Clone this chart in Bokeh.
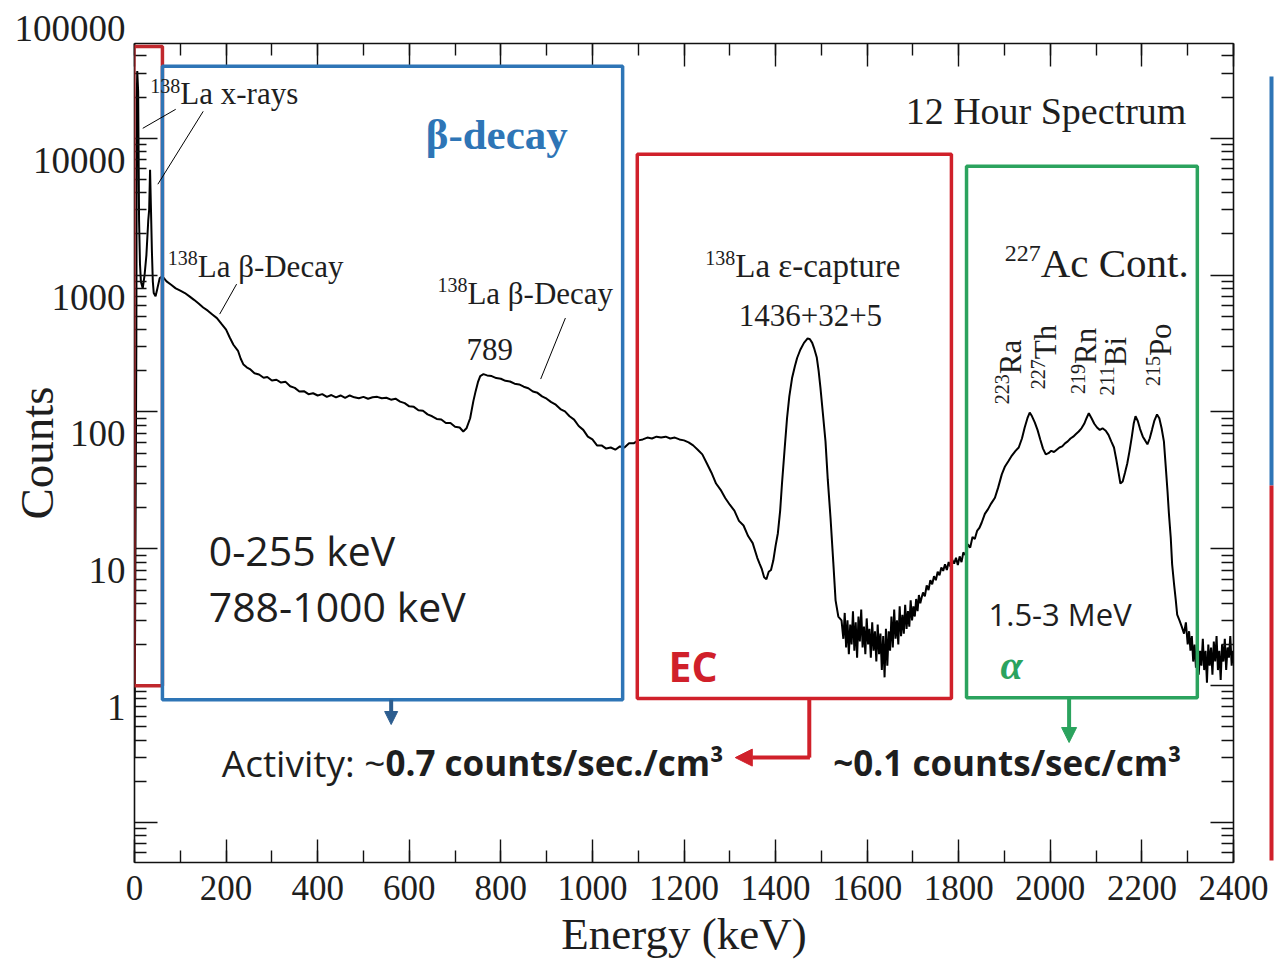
import math
from bokeh.plotting import figure
from bokeh.models import (Range1d, LinearAxis, LogAxis, FixedTicker, SingleIntervalTicker,
                          Label, BoxAnnotation, Arrow, NormalHead)
from bokeh.embed import file_html
from bokeh.resources import INLINE

# ---------------- data ----------------
energy_xray = [0, 2, 4, 5, 6, 8, 10, 12, 14, 18,
               22, 26, 30, 32, 34, 36, 38, 40, 42, 46,
               50, 55]
counts_xray = [0.3, 8, 300, 20000, 31000, 22000, 2500, 1200, 900, 800,
               1000, 1400, 2500, 3000, 5900, 3000, 1500, 900, 740, 700,
               800, 950]

energy_beta = [61, 70, 80, 90, 100, 110, 120, 130, 140, 150,
               160, 170, 180, 190, 200, 208, 216, 226, 232, 238,
               245, 252, 262, 272, 282, 290, 300, 310, 320, 330,
               340, 350, 360, 370, 380, 390, 400, 410, 420, 430,
               440, 450, 460, 470, 480, 490, 500, 510, 520, 530,
               540, 550, 560, 570, 580, 590, 600, 610, 620, 630,
               640, 650, 660, 670, 680, 690, 700, 710, 718, 725,
               733, 740, 745, 750, 755, 762, 770, 780, 790, 800,
               810, 820, 830, 840, 850, 860, 870, 880, 890, 900,
               910, 920, 930, 940, 950, 960, 970, 980, 990, 1000,
               1010, 1020, 1030, 1040, 1050, 1060, 1070, 1080, 1090, 1100]
counts_beta = [980, 900, 850, 800, 770, 740, 700, 660, 620, 580,
               550, 515, 485, 440, 400, 350, 310, 280, 245, 222,
               212, 206, 192, 188, 178, 180, 170, 172, 164, 166,
               154, 150, 141, 142, 135, 137, 132, 135, 129, 133,
               128, 132, 127, 132, 128, 126, 129, 125, 128, 129,
               126, 127, 123, 125, 119, 116, 110, 109, 103, 102,
               96, 93, 89, 88, 83, 83, 78, 77, 72, 76,
               90, 120, 142, 165, 183, 189, 185, 183, 177, 175,
               169, 167, 161, 159, 153, 149, 141, 138, 130, 125,
               118, 113, 105, 101, 93, 88, 79, 74, 66, 63,
               57, 57, 54, 55, 53, 56, 55, 59, 59, 62]

energy_ec = [1110, 1120, 1130, 1140, 1150, 1160, 1170, 1180, 1190, 1200,
             1210, 1220, 1230, 1240, 1250, 1260, 1270, 1280, 1290, 1300,
             1310, 1320, 1330, 1340, 1350, 1360, 1365, 1370, 1375, 1380,
             1385, 1390, 1395, 1400, 1405, 1410, 1414, 1420, 1425, 1430,
             1436, 1442, 1447, 1454, 1462, 1470, 1475, 1480, 1484, 1490,
             1494, 1498, 1503, 1509, 1514, 1520, 1526, 1531, 1537, 1544]
counts_ec = [63, 65, 64, 66, 65, 66, 64, 65, 63, 62,
             60, 57, 53, 49, 42, 36, 30, 27, 23.5, 21,
             19, 16, 14.8, 12.4, 11, 8.6, 7.8, 7.1, 6.2, 6.0,
             6.8, 7.0, 8.2, 10.5, 13, 19, 30, 55, 90, 130,
             177, 215, 248, 285, 320, 345, 340, 320, 293, 250,
             200, 150, 100, 61, 32, 16.8, 8, 4.2, 3.2, 3.0]

energy_valley = [1548, 1551, 1554, 1557, 1560, 1563, 1566, 1569, 1572, 1575,
                 1578, 1581, 1584, 1587, 1590, 1593, 1596, 1599, 1602, 1605,
                 1608, 1611, 1614, 1617, 1620, 1623, 1626, 1629, 1632, 1635,
                 1638, 1641, 1644, 1647, 1650, 1653, 1656, 1659, 1662, 1665,
                 1668, 1671, 1674, 1677, 1680, 1683, 1686, 1689, 1692, 1695,
                 1698, 1701, 1704, 1707, 1710, 1713, 1716, 1719, 1722, 1726,
                 1730, 1734, 1738, 1742, 1746, 1750, 1754, 1758, 1762, 1766,
                 1770, 1774, 1778, 1782, 1786, 1790, 1794, 1798, 1802, 1806,
                 1810, 1815, 1820, 1825, 1830, 1835, 1840, 1845, 1850, 1857]
counts_valley = [2.2, 3.4, 1.9, 3.0, 1.7, 2.8, 2.0, 3.5, 1.8, 2.9,
                 1.6, 3.2, 2.1, 3.6, 1.9, 2.7, 1.7, 3.1, 2.0, 2.6,
                 1.6, 2.9, 1.8, 2.5, 1.5, 2.8, 1.7, 2.4, 1.3, 2.3,
                 1.15, 2.6, 1.4, 2.5, 1.8, 3.2, 1.9, 3.6, 2.2, 3.0,
                 2.0, 3.8, 2.3, 3.3, 2.4, 3.9, 2.6, 3.5, 2.7, 4.2,
                 3.0, 3.8, 3.2, 4.3, 3.5, 4.6, 4.0, 4.4, 4.8, 4.5,
                 5.4, 5.0, 5.9, 5.5, 6.3, 5.9, 6.8, 6.4, 7.3, 6.9,
                 7.7, 7.0, 8.0, 7.4, 8.3, 7.8, 8.6, 7.6, 8.8, 8.0,
                 9.4, 9.0, 10.8, 10.2, 12.2, 11.8, 13.5, 14.2, 15.5, 18]

energy_alpha = [1864, 1871, 1879, 1886, 1894, 1901, 1909, 1916, 1924, 1931,
                1938, 1944, 1950, 1955, 1960, 1966, 1972, 1978, 1984, 1990,
                1996, 2002, 2008, 2014, 2020, 2026, 2032, 2038, 2044, 2050,
                2056, 2062, 2068, 2074, 2079, 2084, 2090, 2096, 2102, 2108,
                2114, 2121, 2127, 2133, 2139, 2144, 2149, 2153, 2158, 2163,
                2168, 2173, 2178, 2182, 2186, 2191, 2196, 2202, 2207, 2212,
                2217, 2222, 2227, 2233, 2238, 2243, 2248, 2252, 2256, 2259,
                2263, 2266, 2270, 2274, 2277, 2282, 2287, 2292, 2296, 2300]
counts_alpha = [19.5, 21.5, 23.6, 28, 35, 40, 44, 48, 52, 55,
                64, 77, 90, 99, 93, 84, 74, 63, 54, 49,
                50, 52, 51, 53, 55, 56, 59, 61, 64, 66,
                69, 72, 76, 82, 90, 98, 90, 82, 77, 74,
                76, 73, 68, 61, 55, 45, 36, 30, 31, 36,
                42, 52, 66, 82, 93, 86, 75, 66, 62, 58,
                64, 74, 86, 96, 90, 76, 61, 40, 26, 18,
                12, 7.7, 5.6, 4.2, 3.3, 3.0, 2.7, 2.4, 2.9, 2.0]

energy_tail = [2303, 2306, 2309, 2312, 2315, 2318, 2321, 2324, 2327, 2330,
               2333, 2336, 2339, 2342, 2345, 2348, 2351, 2354, 2357, 2360,
               2363, 2366, 2369, 2372, 2375, 2378, 2381, 2384, 2387, 2390,
               2393, 2396, 2399]
counts_tail = [2.5, 1.8, 2.3, 1.5, 2.0, 1.35, 1.9, 1.2, 1.8, 1.4,
               2.2, 1.3, 1.8, 1.05, 2.0, 1.4, 1.9, 1.2, 2.1, 1.5,
               2.3, 1.3, 1.8, 1.1, 2.0, 1.5, 2.2, 1.3, 1.9, 1.6,
               2.3, 1.4, 1.8]

x_tick_values = [0, 200, 400, 600, 800, 1000, 1200, 1400, 1600, 1800, 2000, 2200, 2400]
x_tick_labels = ["0", "200", "400", "600", "800", "1000", "1200", "1400",
                 "1600", "1800", "2000", "2200", "2400"]
y_tick_values = [0.1, 1, 10, 100, 1000, 10000, 100000]
y_tick_labels = ["", "1", "10", "100", "1000", "10000", "100000"]

energy = energy_xray + energy_beta + energy_ec + energy_valley + energy_alpha + energy_tail
counts = counts_xray + counts_beta + counts_ec + counts_valley + counts_alpha + counts_tail
assert len(energy) == len(counts)

# ---------------- figure ----------------
SERIF = "Liberation Serif"
SANS = "Open Sans"
TXT = "#1e1e1e"
BLUE = "#2E75B6"
RED = "#D0202A"
DRED = "#C0282D"
GREEN = "#2BA35E"
Y_TOP = 49300

p = figure(width=1274, height=961, y_axis_type="log",
           x_range=Range1d(0, 2400), y_range=Range1d(0.051, Y_TOP),
           output_backend="svg", toolbar_location=None,
           min_border_left=134, min_border_right=41, min_border_top=43, min_border_bottom=99)
p.grid.visible = False
p.outline_line_color = None
p.background_fill_color = "white"
p.border_fill_color = "white"

y_minor = [m * 10 ** e for e in range(-2, 5) for m in range(2, 10)]
y_axis_ticks = [v for v in y_tick_values if v <= Y_TOP]

def style_axis(ax, labels):
    ax.axis_line_color = "#111111"
    ax.axis_line_width = 1.6
    ax.major_tick_line_color = "#111111"
    ax.minor_tick_line_color = "#111111"
    ax.major_tick_line_width = 1.4
    ax.minor_tick_line_width = 1.4
    ax.major_tick_in = 23
    ax.major_tick_out = 0
    ax.minor_tick_in = 12
    ax.minor_tick_out = 0
    if not labels:
        ax.major_label_text_font_size = "1px"
        ax.major_label_text_alpha = 0
        ax.major_label_standoff = 0

xa = p.xaxis[0]
xa.ticker = SingleIntervalTicker(interval=200, num_minor_ticks=2)
style_axis(xa, True)
xa.major_label_overrides = {v: t for v, t in zip(x_tick_values, x_tick_labels)}
xa.major_label_text_font = SERIF
xa.major_label_text_font_size = "35px"
xa.major_label_text_color = TXT
xa.major_label_standoff = 13
xa.axis_label = "Energy (keV)"
xa.axis_label_text_font = SERIF
xa.axis_label_text_font_size = "45px"
xa.axis_label_text_font_style = "normal"
xa.axis_label_text_color = TXT
xa.axis_label_standoff = 6

# y labels sit about half a line below their ticks in the original: use a
# leading blank line; the 100000 label (above the frame) rides on the 10000 tick.
y_over = {}
for v, t in zip(y_tick_values, y_tick_labels):
    if v <= Y_TOP:
        y_over[v] = ("\n" + t) if t else " "
top_lbl = [t for v, t in zip(y_tick_values, y_tick_labels) if v > Y_TOP][0]
y_over[y_axis_ticks[-1]] = top_lbl + "\n\n\n" + y_tick_labels[len(y_axis_ticks) - 1] + "\n\n"

ya = p.yaxis[0]
ya.ticker = FixedTicker(ticks=y_axis_ticks, minor_ticks=y_minor)
style_axis(ya, True)
ya.major_label_overrides = y_over
ya.major_label_text_font = SERIF
ya.major_label_text_font_size = "37px"
ya.major_label_text_color = TXT
ya.major_label_text_line_height = 1.07
ya.major_label_standoff = 9
ya.axis_label = "Counts"
ya.axis_label_text_font = SERIF
ya.axis_label_text_font_size = "47px"
ya.axis_label_text_font_style = "normal"
ya.axis_label_text_color = TXT
ya.axis_label_standoff = -51

# mirrored tick axes on top and right; the right one's tiny white labels
# reserve a gap so that the coloured edge lines added next land outside the frame
top_ax = LinearAxis(ticker=SingleIntervalTicker(interval=200, num_minor_ticks=2))
style_axis(top_ax, False)
p.add_layout(top_ax, "above")
right_ax = LogAxis(ticker=FixedTicker(ticks=y_axis_ticks, minor_ticks=y_minor))
style_axis(right_ax, True)
right_ax.major_label_text_font_size = "1px"
right_ax.major_label_text_color = "white"
right_ax.major_label_standoff = 33
p.add_layout(right_ax, "right")

def edge_axis(cls, bounds, color, width):
    return cls(ticker=FixedTicker(ticks=[]), bounds=bounds, axis_line_color=color,
               axis_line_width=width, major_tick_line_color=None, minor_tick_line_color=None,
               major_label_text_font_size="1px", major_label_text_alpha=0,
               major_label_standoff=0)

p.add_layout(edge_axis(LogAxis, (28.8, 28400), BLUE, 4), "right")
p.add_layout(edge_axis(LogAxis, (0.053, 28.8), RED, 4), "right")

# spectrum
p.line(energy, counts, line_color="black", line_width=2)

# ---------------- annotations ----------------
def box(l, r, b, t, color, w=3.5):
    p.add_layout(BoxAnnotation(left=l, right=r, bottom=b, top=t, fill_color=None, fill_alpha=0,
                               line_color=color, line_alpha=1, line_width=w))

box(-1.5, 61, 1.0, 46900, DRED)
box(61, 1066, 0.79, 33550, BLUE)
box(1098, 1784, 0.804, 7640, RED)
box(1817, 2321, 0.817, 6250, GREEN)

def seg(x0, y0, x1, y1, color="black", w=1.0, head=None):
    p.add_layout(Arrow(end=head, x_start=x0, y_start=y0, x_end=x1, y_end=y1,
                       line_color=color, line_width=w))

# leader lines
seg(90, 16290, 18, 11830)
seg(150, 15740, 51, 4616)
seg(223, 860, 186, 519)
seg(941, 486, 887, 174)

def txt(x, y, text, size, font=SERIF, color=TXT, style="normal", align="left",
        angle=0.0, xo=0, yo=0):
    p.add_layout(Label(x=x, y=y, text=text, text_font=font, text_font_size=f"{size}px",
                       text_color=color, text_font_style=style, text_align=align,
                       text_baseline="middle", angle=angle, x_offset=xo, y_offset=yo))

def suptxt(x, y, sup, main, size, sup_size, rise, angle=0.0):
    if angle == 0.0:
        txt(x, y, sup, sup_size, align="right", yo=rise)
    else:
        txt(x, y, sup, sup_size, align="right", angle=angle, xo=-rise)
    txt(x, y, main, size, angle=angle)

suptxt(100, 21300, "138", "La x-rays", 31, 20, 7)
suptxt(138, 1164, "138", "La \u03b2-Decay", 31, 20, 8)
suptxt(727, 739, "138", "La \u03b2-Decay", 31, 20, 8)
txt(776, 288, "789", 31, align="center")
suptxt(1312, 1164, "138", "La \u03b5-capture", 33, 20, 8)
txt(1476, 511, "1436+32+5", 31, align="center")
txt(1684, 15740, "12 Hour Spectrum", 38)
suptxt(1979, 1224, "227", "Ac Cont.", 41, 24, 10)

rot = math.pi / 2
suptxt(1913, 189, "223", "Ra", 31, 20, 8, angle=rot)
suptxt(1990, 243, "227", "Th", 31, 20, 8, angle=rot)
suptxt(2077, 224, "219", "Rn", 31, 20, 8, angle=rot)
suptxt(2142, 216, "211", "Bi", 31, 20, 8, angle=rot)
suptxt(2241, 256, "215", "Po", 31, 20, 8, angle=rot)

txt(636, 10700, "\u03b2-decay", 43, color=BLUE, style="bold")
txt(162, 9.84, "0-255 keV", 41, font=SANS)
txt(162, 3.84, "788-1000 keV", 41, font=SANS)
txt(1166, 1.40, "EC", 41, font=SANS, color=RED, style="bold")
txt(1865, 3.35, "1.5-3 MeV", 31, font=SANS)
txt(1891, 1.40, "\u03b1", 40, color=GREEN, style="bold italic")
txt(548, 0.274, "Activity: ~", 37, font=SANS, align="right")
txt(548, 0.274, "0.7 counts/sec./cm\u00b3", 35, font=SANS, style="bold")
txt(1526, 0.274, "~0.1 counts/sec/cm\u00b3", 35, font=SANS, style="bold")

# arrows
seg(560.5, 0.79, 560.5, 0.52, color="#2C5D8F", w=4,
    head=NormalHead(size=13, fill_color="#2C5D8F", line_color="#2C5D8F"))
seg(1473.6, 0.804, 1473.6, 0.298, color=RED, w=4)
seg(1475, 0.298, 1312, 0.298, color=RED, w=4,
    head=NormalHead(size=17, fill_color=RED, line_color=RED))
seg(2041, 0.817, 2041, 0.384, color=GREEN, w=4,
    head=NormalHead(size=15, fill_color=GREEN, line_color=GREEN))

open("out.html", "w").write(file_html(p, INLINE))
